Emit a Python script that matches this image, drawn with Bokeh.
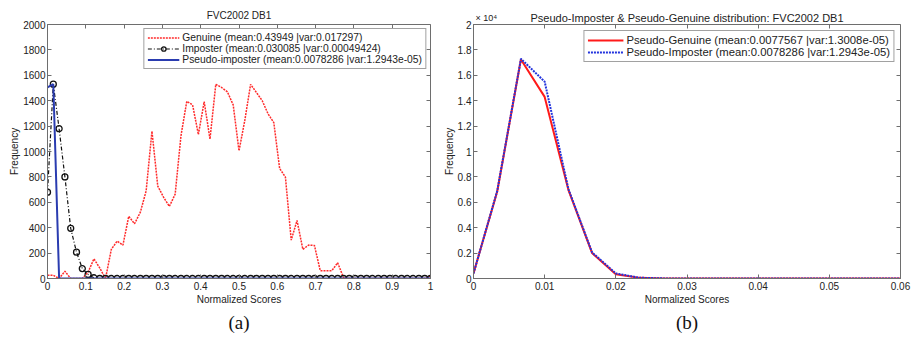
import numpy as np
from bokeh.plotting import figure
from bokeh.models import LinearAxis, Title, FixedTicker, Range1d, Legend, LegendItem
from bokeh.layouts import row
from bokeh.embed import file_html
from bokeh.resources import INLINE

FONT = "Liberation Sans"
SERIF = "Liberation Serif"
AX = "#6e6e6e"
TXT = "#222222"

# ---------------- (a) FVC2002 DB1 ----------------
score_bins_a = np.linspace(0, 1, 67)
genuine = [26, 26, 0, 57, 0, 0, 0, 50, 155, 83, 0, 230, 294, 263, 490, 431, 522, 690,
           1160, 728, 640, 568, 664, 1124, 1395, 1367, 1134, 1392, 1098, 1529, 1504,
           1470, 1367, 1005, 1245, 1529, 1465, 1400, 1297, 1227, 866, 798, 302, 457,
           230, 263, 260, 62, 62, 62, 124, 8,
           0, 0, 0, 0, 0, 0, 0, 0, 0, 0, 0, 0, 0, 0, 20]
imposter = [680, 1530, 1180, 800, 395, 207, 78, 32, 6] + [0] * 58
pseudo_imposter_a = [1505, 1530] + [0] * 65
legend_a = ["Genuine (mean:0.43949 |var:0.017297)",
            "Imposter (mean:0.030085 |var:0.00049424)",
            "Pseudo-imposter (mean:0.0078286 |var:1.2943e-05)"]
title_a = "FVC2002 DB1"
caption_a = "(a)"
xticks_a = [0, 0.1, 0.2, 0.3, 0.4, 0.5, 0.6, 0.7, 0.8, 0.9, 1]
xtick_labels_a = ["0", "0.1", "0.2", "0.3", "0.4", "0.5", "0.6", "0.7", "0.8", "0.9", "1"]
yticks_a = [0, 200, 400, 600, 800, 1000, 1200, 1400, 1600, 1800, 2000]
ytick_labels_a = ["0", "200", "400", "600", "800", "1000", "1200", "1400", "1600", "1800", "2000"]

# ---------------- (b) Pseudo distributions ----------------
score_bins_b = np.linspace(0, 0.06, 19)
pseudo_genuine = [400, 6850, 17250, 14300, 6980, 2000, 330, 50] + [0] * 11
pseudo_imposter_b = [400, 6900, 17300, 15500, 7050, 2050, 400, 60, 10] + [0] * 10
legend_b = ["Pseudo-Genuine (mean:0.0077567 |var:1.3008e-05)",
            "Pseudo-Imposter (mean:0.0078286 |var:1.2943e-05)"]
title_b = "Pseudo-Imposter & Pseudo-Genuine distribution: FVC2002 DB1"
caption_b = "(b)"
xticks_b = [0, 0.01, 0.02, 0.03, 0.04, 0.05, 0.06]
xtick_labels_b = ["0", "0.01", "0.02", "0.03", "0.04", "0.05", "0.06"]
yticks_b = [0, 2000, 4000, 6000, 8000, 10000, 12000, 14000, 16000, 18000, 20000]
ytick_labels_b = ["0", "0.2", "0.4", "0.6", "0.8", "1", "1.2", "1.4", "1.6", "1.8", "2"]
multiplier_b = "× 10⁴"

xlabel = "Normalized Scores"
ylabel = "Frequency"


def setup(p, xticks, xlabels, yticks, ylabels, fs):
    p.xgrid.visible = False
    p.ygrid.visible = False
    p.outline_line_color = AX
    for ax, ticks, labels in ((p.xaxis[0], xticks, xlabels), (p.yaxis[0], yticks, ylabels)):
        ax.ticker = FixedTicker(ticks=ticks)
        ax.major_label_overrides = dict(zip(ticks, labels))
        ax.major_tick_in = 4
        ax.major_tick_out = 0
        ax.minor_tick_line_color = None
        ax.axis_line_color = AX
        ax.major_tick_line_color = AX
        ax.major_label_text_font = FONT
        ax.major_label_text_font_size = fs
        ax.major_label_text_color = TXT
        ax.axis_label_text_font = FONT
        ax.axis_label_text_font_size = "10px"
        ax.axis_label_text_font_style = "normal"
        ax.axis_label_text_color = TXT
    p.xaxis.major_label_standoff = 3
    p.xaxis.axis_label_standoff = 1
    p.yaxis.major_label_standoff = 2
    p.yaxis.axis_label_standoff = 0
    p.xaxis.axis_label = xlabel
    p.yaxis.axis_label = ylabel
    # mirrored inward ticks on the top and right edges of the box
    for side, ticks, loc in (("above", xticks, p.y_range.end), ("right", yticks, p.x_range.end)):
        a = LinearAxis(ticker=FixedTicker(ticks=ticks), fixed_location=loc,
                       major_label_text_font_size="0px", major_label_text_alpha=0,
                       major_tick_in=4, major_tick_out=0, major_label_standoff=0,
                       axis_line_color=AX, major_tick_line_color=AX,
                       minor_tick_line_color=None)
        p.add_layout(a, side)


def style_title(t, size, font=FONT, standoff=1, align="center"):
    t.align = align
    t.text_font = font
    t.text_font_size = size
    t.text_font_style = "normal"
    t.text_color = TXT
    t.standoff = standoff


H = 334

# ---- figure (a)
pa = figure(width=436, height=H, output_backend="svg", toolbar_location=None,
            title=title_a,
            x_range=Range1d(0, 1), y_range=Range1d(0, 2000),
            min_border_left=47, min_border_right=6, min_border_top=21, min_border_bottom=55)
style_title(pa.title, "10px", standoff=8)
setup(pa, xticks_a, xtick_labels_a, yticks_a, ytick_labels_a, "10px")

rg = pa.line(score_bins_a, genuine, line_color="#ff2a2a", line_width=1.5, line_dash="2 1")
ri = pa.line(score_bins_a, imposter, line_color="#111111", line_width=1.2, line_dash="4 2 1 2")
rm = pa.scatter(score_bins_a, imposter, marker="circle", size=6, fill_color=None,
                line_color="#111111", line_width=1.3)
rp = pa.line(score_bins_a, pseudo_imposter_a, line_color="#2a3cb0", line_width=2)

leg_a = Legend(items=[LegendItem(label=legend_a[0], renderers=[rg]),
                      LegendItem(label=legend_a[1], renderers=[ri, rm]),
                      LegendItem(label=legend_a[2], renderers=[rp])],
               location="top_right", margin=4, padding=3, spacing=0,
               glyph_width=32, glyph_height=11, label_height=11, label_standoff=3,
               label_text_font=FONT, label_text_font_size="10.3px", label_text_color=TXT,
               border_line_color="#444444", border_line_width=1, background_fill_alpha=1)
pa.add_layout(leg_a)

cap_a = Title(text=caption_a)
style_title(cap_a, "19px", SERIF, 4)
cap_a.text_color = "#111111"
pa.add_layout(cap_a, "below")

# ---- figure (b)
pb = figure(width=478, height=H, output_backend="svg", toolbar_location=None,
            title=title_b,
            x_range=Range1d(0, 0.06), y_range=Range1d(0, 20000),
            min_border_left=37, min_border_right=14, min_border_top=24, min_border_bottom=55)
style_title(pb.title, "11px", standoff=-30)
setup(pb, xticks_b, xtick_labels_b, yticks_b, ytick_labels_b, "10px")

mult = Title(text=multiplier_b)
style_title(mult, "9px", standoff=4, align="left")
mult.offset = 2
pb.add_layout(mult, "above")

r1 = pb.line(score_bins_b, pseudo_genuine, line_color="#ff1a1a", line_width=2)
r2 = pb.line(score_bins_b, pseudo_imposter_b, line_color="#2233dd", line_width=2, line_dash="2 1")

leg_b = Legend(items=[LegendItem(label=legend_b[0], renderers=[r1]),
                      LegendItem(label=legend_b[1], renderers=[r2])],
               location="top_right", margin=6, padding=3, spacing=0,
               glyph_width=36, glyph_height=12, label_height=12, label_standoff=3,
               label_text_font=FONT, label_text_font_size="11.3px", label_text_color=TXT,
               border_line_color="#444444", border_line_width=1, background_fill_alpha=1)
pb.add_layout(leg_b)

cap_b = Title(text=caption_b)
style_title(cap_b, "19px", SERIF, 4)
cap_b.text_color = "#111111"
pb.add_layout(cap_b, "below")

layout = row(pa, pb)
open("out.html", "w").write(file_html(layout, INLINE))
